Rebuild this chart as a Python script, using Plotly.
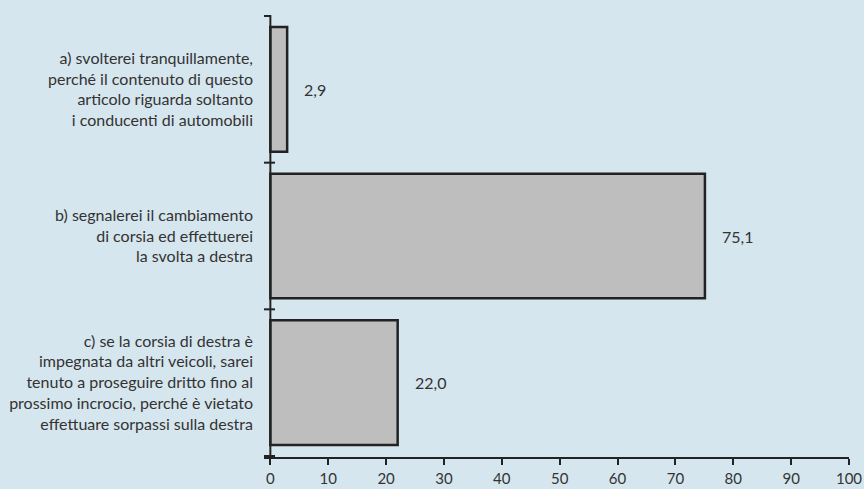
import plotly.graph_objects as go

categories = [
    "a) svolterei tranquillamente,<br>perché il contenuto di questo<br>articolo riguarda soltanto<br>i conducenti di automobili",
    "b) segnalerei il cambiamento<br>di corsia ed effettuerei<br>la svolta a destra",
    "c) se la corsia di destra è<br>impegnata da altri veicoli, sarei<br>tenuto a proseguire dritto fino al<br>prossimo incrocio, perché è vietato<br>effettuare sorpassi sulla destra",
]
values = [2.9, 75.1, 22.0]
x_ticks = [0, 10, 20, 30, 40, 50, 60, 70, 80, 90, 100]

FONT = "Lato"
TXT = "#333333"
DARK = "#222222"
BG = "#d6e6ee"

fig = go.Figure()
fig.add_trace(go.Bar(
    y=categories, x=values, orientation="h",
    marker=dict(color="#bebebe", line=dict(color=DARK, width=2.5)),
    width=0.85, hoverinfo="skip",
))

for c, v in zip(categories, values):
    fig.add_annotation(
        x=v, y=c, text=f"{v:.1f}".replace(".", ","), showarrow=False,
        xanchor="left", xshift=15, font=dict(family=FONT, size=16, color=TXT),
    )

# y axis line at x=0 and boundary ticks
fig.add_shape(type="line", xref="x", yref="paper", x0=0, x1=0, y0=0, y1=1,
              line=dict(color=DARK, width=2))
n = len(categories)
for i in range(n + 1):
    b = i - 0.5
    fig.add_shape(type="line", xref="x", yref="y", x0=-1.2, x1=0.8 if i > 0 else 0, y0=b, y1=b,
                  line=dict(color=DARK, width=2))

fig.update_layout(
    width=864, height=489,
    paper_bgcolor=BG, plot_bgcolor=BG,
    margin=dict(l=264, r=15, t=15, b=32),
    showlegend=False,
    font=dict(family=FONT, size=16, color=TXT),
    xaxis=dict(
        range=[-1.1, 100], tickvals=x_ticks, ticktext=[str(t) for t in x_ticks],
        showgrid=False, zeroline=False, showline=True, linecolor=DARK, linewidth=2,
        ticks="outside", ticklen=6, tickwidth=2, tickcolor=DARK, automargin=False,
        ticklabelstandoff=1,
        tickfont=dict(family=FONT, size=15, color=TXT),
    ),
    yaxis=dict(
        autorange="reversed", showgrid=False, zeroline=False, showline=False,
        ticks="", ticklabelstandoff=10, automargin=False,
        tickfont=dict(family=FONT, size=16, color=TXT),
    ),
)

fig.write_html("out.html", config={"displayModeBar": False},
               post_script="document.body.style.margin='0';document.body.style.background='%s';" % BG)
